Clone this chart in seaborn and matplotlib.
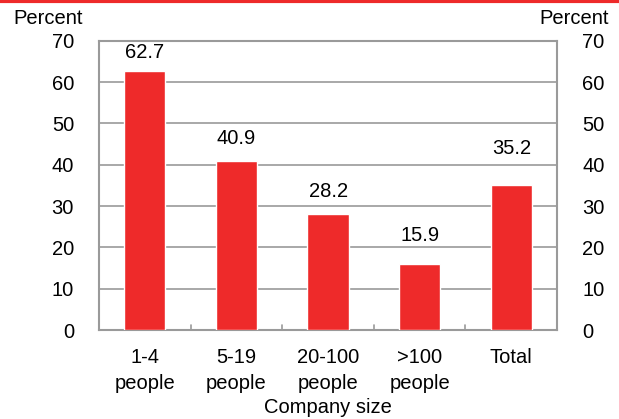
import matplotlib
matplotlib.use("Agg")
import matplotlib.pyplot as plt
import seaborn as sns
import pandas as pd

# Share of companies by size
categories = ["1-4\npeople", "5-19\npeople", "20-100\npeople", ">100\npeople", "Total"]
values = [62.7, 40.9, 28.2, 15.9, 35.2]
y_ticks = [0, 10, 20, 30, 40, 50, 60, 70]

RED = "#EE2A2A"
GREY = "#9A9A9A"
FS = 14.5

sns.set_theme(style="white")
plt.rcParams["font.family"] = ["Liberation Sans", "DejaVu Sans"]
plt.rcParams["font.size"] = FS
plt.rcParams["text.color"] = "black"

df = pd.DataFrame({"size": categories, "pct": values})

fig = plt.figure(figsize=(6.19, 4.19), dpi=100)
ax = fig.add_axes([0.160, 0.2124, 0.740, 0.690])

sns.barplot(data=df, x="size", y="pct", color=RED, width=0.45,
            saturation=1, ax=ax, zorder=3)

ax.set_ylim(0, 70)
ax.set_xlim(-0.5, len(categories) - 0.5)
ax.set_yticks(y_ticks)
ax.yaxis.grid(True, color=GREY, linewidth=1.2, zorder=0)
ax.set_axisbelow(True)
for s in ax.spines.values():
    s.set_color(GREY)
    s.set_linewidth(1.5)

ax.tick_params(axis="y", length=0, pad=18, labelsize=FS, colors="black")
ax.set_xticks(range(len(categories)))
ax.set_xticklabels(categories, fontsize=FS, linespacing=1.45, color="black")
ax.tick_params(axis="x", length=0, pad=13)
# small inward ticks between categories
for b in [0.5, 1.5, 2.5, 3.5]:
    ax.plot([b, b], [0, 1.2], color=GREY, linewidth=1.2, zorder=4, clip_on=False)

ax2 = ax.twinx()
ax2.set_ylim(0, 70)
ax2.set_yticks(y_ticks)
ax2.tick_params(axis="y", length=0, pad=18, labelsize=FS, colors="black")
for s in ax2.spines.values():
    s.set_visible(False)
ax2.grid(False)

ax.set_xlabel("")
ax.set_ylabel("")
fig.text(0.53, 0.0143, "Company size", ha="center", va="baseline", fontsize=FS)

# value labels sit at slightly different heights above each bar
label_gap = [3.1, 4.1, 3.9, 5.6, 7.5]
for i, v in enumerate(values):
    ax.text(i, v + label_gap[i], f"{v:.1f}", ha="center", va="baseline",
            fontsize=FS, color="black")

fig.text(0.022, 0.932, "Percent", ha="left", va="bottom", fontsize=FS)
fig.text(0.983, 0.932, "Percent", ha="right", va="bottom", fontsize=FS)

fig.add_artist(plt.Line2D([0, 1], [0.997, 0.997], color=RED, linewidth=3,
                          transform=fig.transFigure))

fig.savefig("out.png", dpi=100)
